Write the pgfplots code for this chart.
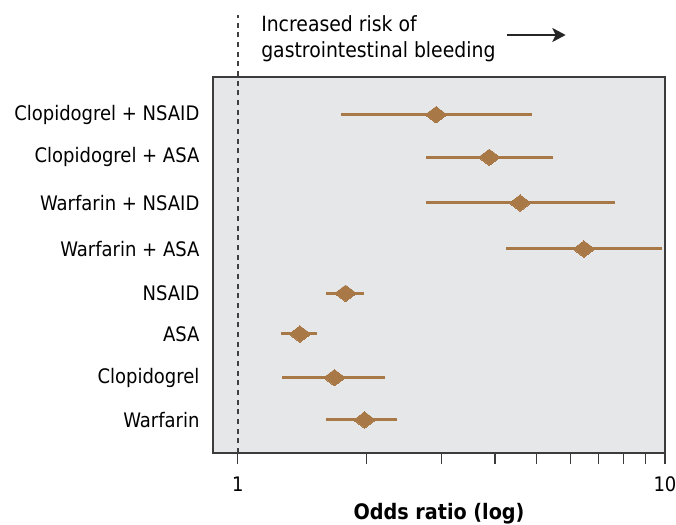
\documentclass[border=0pt]{standalone}
\usepackage{fontspec}
\setmainfont{DejaVu Sans Condensed}
\usepackage{pgfplots}
\pgfplotsset{compat=1.18}
\usetikzlibrary{arrows.meta}
\definecolor{ci}{RGB}{168,121,71}
\definecolor{bg}{RGB}{230,231,232}
\definecolor{frame}{RGB}{60,60,60}
\begin{document}
\begin{tikzpicture}
\path[use as bounding box] (-159.75pt,-54pt) rectangle (347.25pt,339.75pt);
\begin{axis}[
  scale only axis, width=339pt, height=282pt,
  xmode=log, xmin=0.875, xmax=10,
  ymin=0, ymax=376,
  axis background/.style={fill=bg},
  axis line style={draw=frame, line width=1pt},
  clip=false,
  font=\fontsize{15}{18}\selectfont,
  xtick={1,10}, xticklabels={1,10},
  minor xtick={2,3,4,5,6,7,8,9},
  xtick pos=bottom, tick align=outside,
  major tick length=8pt, minor tick length=8pt,
  every tick/.style={draw=frame, line width=0.8pt},
  log basis x=10,
  ytick={33,75.3,119,159.7,204,250,295.7,338.3},
  yticklabels={Warfarin, Clopidogrel, ASA, NSAID, Warfarin + ASA, Warfarin + NSAID, Clopidogrel + ASA, Clopidogrel + NSAID},
  ytick style={draw=none},
  ytick pos=left,
  y tick label style={inner sep=0pt, xshift=-2pt},
  x tick label style={inner sep=0pt, anchor=base, yshift=-21pt},
  xlabel={\fontsize{16}{19}\selectfont\bfseries Odds ratio (log)},
  every axis x label/.style={at={(axis description cs:0.5,0)}, anchor=base, yshift=-50pt},
  unbounded coords=jump,
]
\draw[black!75, line width=1.1pt, dash pattern=on 3.75pt off 3.5pt] (axis cs:1,0) -- ([yshift=46.5pt]axis cs:1,376);
\addplot[ci, line width=2.25pt] coordinates {
(1.613,33) (2.363,33) (nan,nan)
(1.27,75.3) (2.212,75.3) (nan,nan)
(1.265,119) (1.532,119) (nan,nan)
(1.61,159.7) (1.977,159.7) (nan,nan)
(4.24,204) (9.82,204) (nan,nan)
(2.764,250) (7.62,250) (nan,nan)
(2.764,295.7) (5.455,295.7) (nan,nan)
(1.743,338.3) (4.88,338.3)
};
\addplot[only marks, mark=diamond*, mark size=8.2pt, mark options={rotate=90, fill=ci, draw=ci, line width=0pt}] coordinates {
(1.981,33) (1.684,75.3) (1.398,119) (1.788,159.7) (6.46,204) (4.58,250) (3.88,295.7) (2.911,338.3)
};
\end{axis}
\node[anchor=base west, inner sep=0pt, font=\fontsize{15.7}{18}\selectfont] at (36pt,315.75pt) {Increased risk of};
\node[anchor=base west, inner sep=0pt, font=\fontsize{15.7}{18}\selectfont] at (36pt,296.25pt) {gastrointestinal bleeding};
\draw[-{Stealth[length=10pt, width=10.5pt, inset=2.5pt]}, line width=1.4pt, black!85] (220.5pt,313.5pt) -- (264.5pt,313.5pt);
\end{tikzpicture}
\end{document}
